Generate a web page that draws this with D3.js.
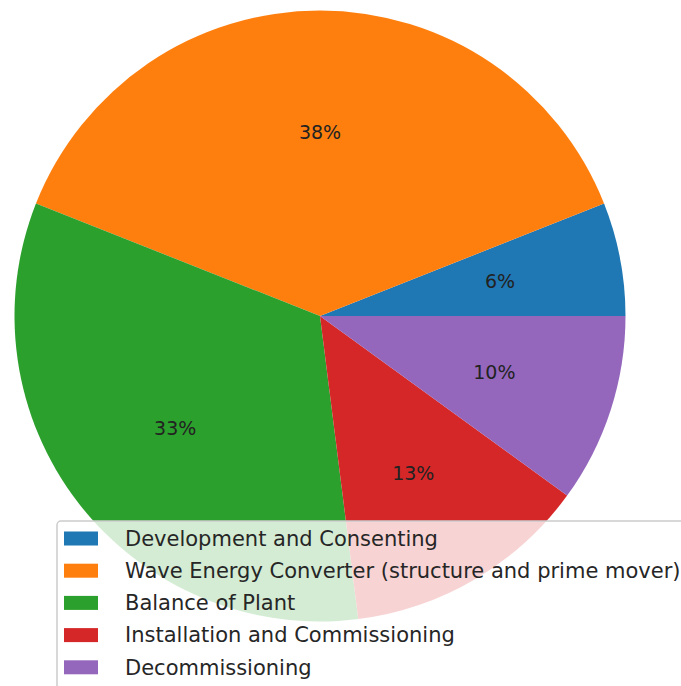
<!DOCTYPE html>
<html>
<head>
<meta charset="utf-8">
<script src="https://cdn.jsdelivr.net/npm/d3@7"></script>
<style>
  body { margin: 0; background: #fff; }
  svg { display: block; font-family: "DejaVu Sans", sans-serif; }
</style>
</head>
<body>
<script>
// chart data
const categories = [
  'Development and Consenting',
  'Wave Energy Converter (structure and prime mover)',
  'Balance of Plant',
  'Installation and Commissioning',
  'Decommissioning'
];
const shares = [6, 38, 33, 13, 10];
const colors = ['#1f77b4', '#ff7f0e', '#2ca02c', '#d62728', '#9467bd'];

const width = 681, height = 686;
const cx = 320, cy = 316, radius = 305.5;

const svg = d3.select('body').append('svg')
  .attr('width', width)
  .attr('height', height);

// matplotlib style: start at 3 o'clock, go counterclockwise
const pie = d3.pie()
  .sort(null)
  .startAngle(Math.PI / 2)
  .endAngle(Math.PI / 2 - 2 * Math.PI);

const arcs = pie(shares);
const total = d3.sum(shares);

const arc = d3.arc().innerRadius(0).outerRadius(radius);
const labelArc = d3.arc().innerRadius(0).outerRadius(radius * 1.2);

const g = svg.append('g').attr('transform', `translate(${cx},${cy})`);

g.selectAll('path')
  .data(arcs)
  .enter()
  .append('path')
  .attr('d', arc)
  .attr('fill', (d, i) => colors[i]);

g.selectAll('text')
  .data(arcs)
  .enter()
  .append('text')
  .attr('transform', d => `translate(${labelArc.centroid(d)})`)
  .attr('text-anchor', 'middle')
  .attr('dy', '0.35em')
  .attr('font-size', 19)
  .attr('fill', '#222')
  .text(d => Math.round(d.value / total * 100) + '%');

// legend, drawn over the pie with a translucent frame
const legend = svg.append('g').attr('transform', 'translate(57,521)');

legend.append('rect')
  .attr('width', 640)
  .attr('height', 190)
  .attr('rx', 4)
  .attr('fill', 'white')
  .attr('fill-opacity', 0.8)
  .attr('stroke', '#cccccc')
  .attr('stroke-width', 1.5);

const rowH = 32.2;
const rows = legend.selectAll('g.row')
  .data(categories)
  .enter()
  .append('g')
  .attr('class', 'row')
  .attr('transform', (d, i) => `translate(0,${17.5 + i * rowH})`);

rows.append('rect')
  .attr('x', 7)
  .attr('y', -7)
  .attr('width', 34)
  .attr('height', 14)
  .attr('fill', (d, i) => colors[i]);

rows.append('text')
  .attr('x', 68)
  .attr('dy', '0.35em')
  .attr('font-size', 21)
  .attr('fill', '#262626')
  .text(d => d);
</script>
</body>
</html>
